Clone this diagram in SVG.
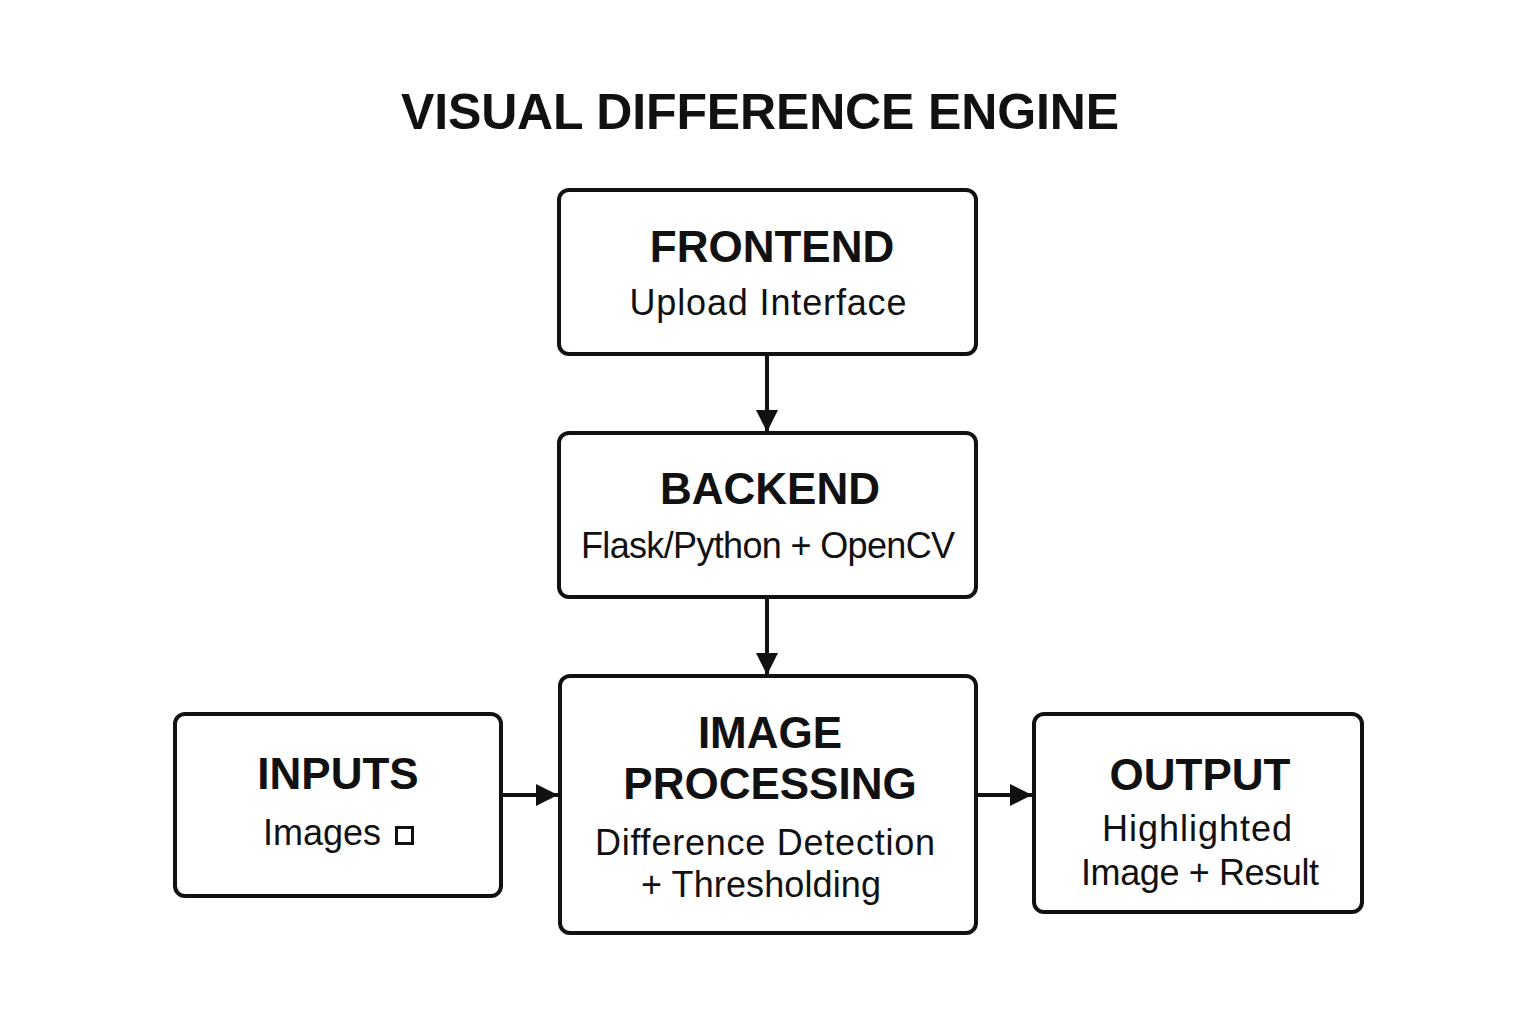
<svg xmlns="http://www.w3.org/2000/svg" width="1536" height="1024" viewBox="0 0 1536 1024">
<style>
.box{fill:#fff;stroke:#111;stroke-width:4}
.h{font-family:"Liberation Sans",Arial,sans-serif;font-weight:bold;font-size:44px;fill:#111;text-anchor:middle}
.s{font-family:"Liberation Sans",Arial,sans-serif;font-size:36px;fill:#111;text-anchor:middle}
.edge{stroke:#111;stroke-width:4;fill:none}
</style>
<defs>
<marker id="arr" viewBox="0 0 10 10" refX="10" refY="5" markerWidth="5.5" markerHeight="5.5" markerUnits="strokeWidth" orient="auto">
<path d="M0,0 L10,5 L0,10 Z" fill="#111"/>
</marker>
</defs>
<rect width="1536" height="1024" fill="#fff"/>
<text x="760" y="129" font-family="Liberation Sans,Arial,sans-serif" font-weight="bold" font-size="50" fill="#111" text-anchor="middle" textLength="718">VISUAL DIFFERENCE ENGINE</text>
<g id="connectors">
<line class="edge" x1="767" y1="355" x2="767" y2="432" marker-end="url(#arr)"/>
<line class="edge" x1="767" y1="598" x2="767" y2="675" marker-end="url(#arr)"/>
<line class="edge" x1="502" y1="795" x2="558" y2="795" marker-end="url(#arr)"/>
<line class="edge" x1="977" y1="795" x2="1032" y2="795" marker-end="url(#arr)"/>
</g>
<g id="frontend">
<rect class="box" x="559" y="190" width="417" height="164" rx="10"/>
<text class="h" x="772" y="262">FRONTEND</text>
<text class="s" x="768" y="315" textLength="277">Upload Interface</text>
</g>
<g id="backend">
<rect class="box" x="559" y="433" width="417" height="164" rx="10"/>
<text class="h" x="770" y="504">BACKEND</text>
<text class="s" x="768" y="558" textLength="374">Flask/Python + OpenCV</text>
</g>
<g id="image-processing">
<rect class="box" x="560" y="676" width="416" height="257" rx="10"/>
<text class="h" x="770" y="748">IMAGE</text>
<text class="h" x="770" y="799">PROCESSING</text>
<text class="s" x="765" y="855" textLength="340">Difference Detection</text>
<text class="s" x="761" y="897" textLength="240">+ Thresholding</text>
</g>
<g id="inputs">
<rect class="box" x="175" y="714" width="326" height="182" rx="10"/>
<text class="h" x="338" y="789">INPUTS</text>
<text class="s" x="322" y="845">Images</text>
<rect x="396.5" y="827.5" width="16" height="16" fill="none" stroke="#111" stroke-width="3"/>
</g>
<g id="output">
<rect class="box" x="1034" y="714" width="328" height="198" rx="10"/>
<text class="h" x="1200" y="790">OUTPUT</text>
<text class="s" x="1197" y="841" textLength="190">Highlighted</text>
<text class="s" x="1200" y="885" textLength="238">Image + Result</text>
</g>
</svg>
